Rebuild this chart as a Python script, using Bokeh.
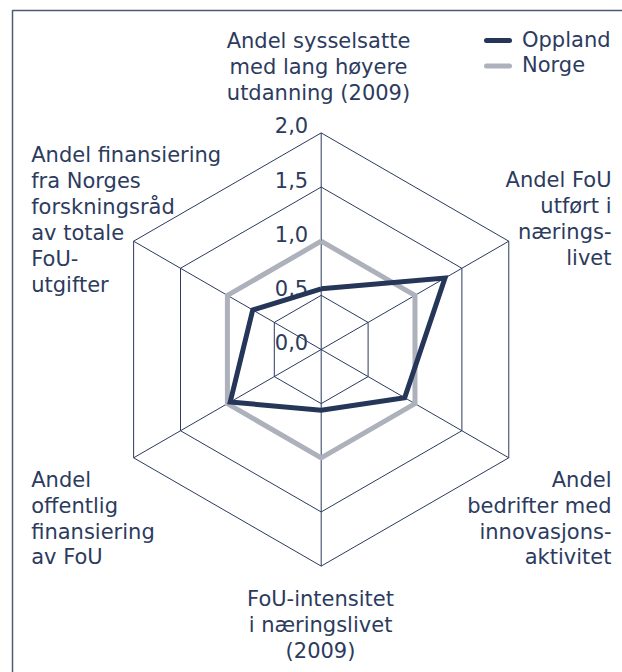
import numpy as np
from bokeh.plotting import figure
from bokeh.models import Range1d
from bokeh.core.properties import value
from bokeh.embed import file_html
from bokeh.resources import INLINE

# ---------------- data ----------------
categories = [
    "Andel sysselsatte\nmed lang høyere\nutdanning (2009)",
    "Andel FoU\nutført i\nnærings-\nlivet",
    "Andel\nbedrifter med\ninnovasjons-\naktivitet",
    "FoU-intensitet\ni næringslivet\n(2009)",
    "Andel\noffentlig\nfinansiering\nav FoU",
    "Andel finansiering\nfra Norges\nforskningsråd\nav totale\nFoU-\nutgifter",
]
oppland = [0.56, 1.32, 0.89, 0.56, 0.97, 0.73]
norge = [1.0, 1.0, 1.0, 1.0, 1.0, 1.0]
ring_values = [0.0, 0.5, 1.0, 1.5, 2.0]
ring_labels = ["0,0", "0,5", "1,0", "1,5", "2,0"]
series_names = ["Oppland", "Norge"]

# ---------------- style / layout ----------------
NAVY = "#253659"
GRAY = "#adb1bc"
TXT = "#2c3b5e"
GRID = "#2b3a5e"
FONT = value("DejaVu Sans")
FS = "21px"
YOFF = -7.5   # text baseline correction

W, H = 622, 672
S = 108.3            # pixels per value unit
CX, CY = 320.7, 349  # centre in plot pixels

p = figure(width=W, height=H, output_backend="svg", toolbar_location=None,
           x_range=Range1d(-CX / S, (W - CX) / S),
           y_range=Range1d(-(H - CY) / S, CY / S),
           min_border=0, outline_line_color=None)
p.axis.visible = False
p.grid.visible = False
p.background_fill_color = "white"
p.border_fill_color = "white"


def pg(x, y):
    """pixel -> data coords"""
    return (x - CX) / S, (CY - y) / S


# frame (left and top edges)
fx0, fy0 = pg(12, 10)
fx1, fy1 = pg(640, 700)
p.line([fx0, fx0, fx1], [fy1, fy0, fy0], line_color="#4d5a78", line_width=1.5)

n = len(categories)
ang = np.pi / 2 - np.arange(n) * 2 * np.pi / n
ca, sa = np.cos(ang), np.sin(ang)

# rings
for r in ring_values[1:]:
    xs = list(r * ca) + [r * ca[0]]
    ys = list(r * sa) + [r * sa[0]]
    p.line(xs, ys, line_color=GRID, line_width=1)
# spokes
rmax = ring_values[-1]
p.segment(x0=[0] * n, y0=[0] * n, x1=list(rmax * ca), y1=list(rmax * sa),
          line_color=GRID, line_width=1)

# ring labels
p.text(x=[0] * len(ring_values), y=ring_values, text=ring_labels,
       x_offset=-13, y_offset=YOFF, text_align="right",
       text_baseline="alphabetic",
       text_font=FONT, text_font_size=FS, text_color=TXT)

# series
nv = np.array(norge)
p.line(list(nv * ca) + [nv[0] * ca[0]], list(nv * sa) + [nv[0] * sa[0]],
       line_color=GRAY, line_width=5, line_join="miter")
ov = np.array(oppland)
p.line(list(ov * ca) + [ov[0] * ca[0]], list(ov * sa) + [ov[0] * sa[0]],
       line_color=NAVY, line_width=5, line_join="miter")

# category labels (pixel positions of anchor / first baseline)
label_pos = [
    (318, 47.7, "center"),
    (611, 187.3, "right"),
    (611, 486.7, "right"),
    (320, 606.0, "center"),
    (30.7, 486.7, "left"),
    (30.7, 162.3, "left"),
]
LH = 25.9
for cat, (lx, ly, al) in zip(categories, label_pos):
    lines = cat.split("\n")
    xs, ys = [], []
    for i, _ in enumerate(lines):
        x, y = pg(lx, ly + i * LH)
        xs.append(x)
        ys.append(y)
    p.text(x=xs, y=ys, text=lines, text_align=al, text_baseline="alphabetic",
           y_offset=YOFF,
           text_font=FONT, text_font_size=FS, text_color=TXT)

# legend
leg_cols = [NAVY, GRAY]
for i, (name, col) in enumerate(zip(series_names, leg_cols)):
    x0, y0 = pg(486, 40 + i * 25.5)
    x1, _ = pg(509, 0)
    p.segment(x0=[x0], y0=[y0], x1=[x1], y1=[y0], line_color=col,
              line_width=5, line_cap="round")
    tx, ty = pg(521.5, 46.5 + i * 25.5)
    p.text(x=[tx], y=[ty], text=[name], text_align="left",
           text_baseline="alphabetic", y_offset=YOFF,
           text_font=FONT, text_font_size=FS, text_color=TXT)

open("out.html", "w").write(file_html(p, INLINE))
